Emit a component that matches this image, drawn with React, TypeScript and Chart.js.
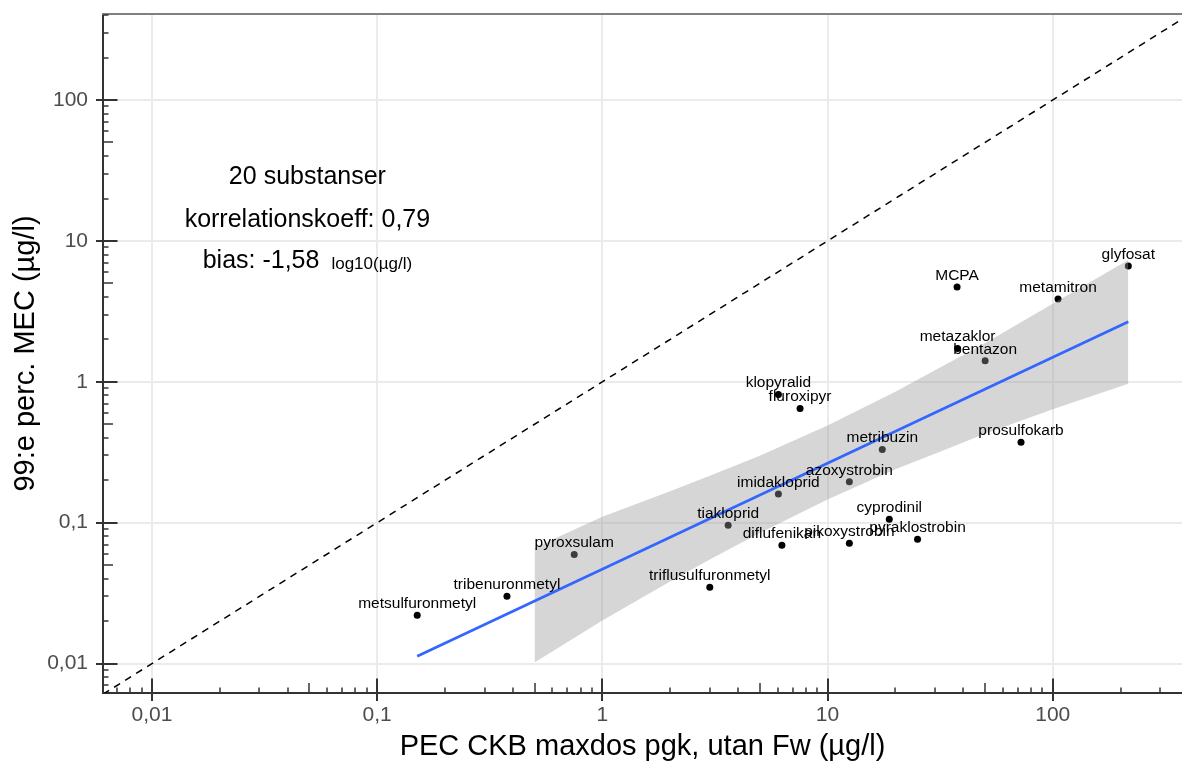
import React, { useEffect, useRef } from 'react';
import { Chart, registerables } from 'chart.js';

Chart.register(...registerables);

const FONT = '"Liberation Sans", Arial, Helvetica, sans-serif';

// Substances with PEC (x) and 99th percentile MEC (y), both in µg/l
const substances = [
  'glyfosat', 'MCPA', 'metamitron', 'metazaklor', 'bentazon',
  'klopyralid', 'fluroxipyr', 'metribuzin', 'prosulfokarb', 'azoxystrobin',
  'imidakloprid', 'cyprodinil', 'tiakloprid', 'pyraklostrobin', 'pikoxystrobin',
  'diflufenikan', 'pyroxsulam', 'triflusulfuronmetyl', 'tribenuronmetyl', 'metsulfuronmetyl',
];
const pec = [
  216.6, 37.6, 105.6, 37.8, 50.1,
  6.05, 7.55, 17.5, 72.3, 12.5,
  6.05, 18.8, 3.62, 25.1, 12.5,
  6.27, 0.75, 3.0, 0.377, 0.1506,
];
const mec = [
  6.63, 4.71, 3.87, 1.727, 1.41,
  0.814, 0.647, 0.331, 0.373, 0.195,
  0.16, 0.1059, 0.096, 0.0763, 0.0715,
  0.0692, 0.0595, 0.0348, 0.0301, 0.022,
];

// Regression line endpoints (log-log fit)
const fitX = [0.1506, 216.6];
const fitY = [0.01127, 2.667];

// Confidence band of the fit
const bandX = [0.5, 1, 2, 3, 5, 10, 20, 30, 50, 100, 216.6];
const bandUpper = [0.0665, 0.11, 0.167, 0.2155, 0.2987, 0.49, 0.849, 1.21, 1.878, 3.575, 7.33];
const bandLower = [0.01016, 0.0202, 0.0382, 0.0547, 0.0844, 0.1463, 0.2395, 0.3086, 0.428, 0.639, 0.968];

// 1:1 reference line
const identity = [0.001, 1000];

// Axis ticks
const xTickValues = [0.01, 0.1, 1, 10, 100];
const xTickLabels = ['0,01', '0,1', '1', '10', '100'];
const yTickValues = [0.01, 0.1, 1, 10, 100];
const yTickLabels = ['0,01', '0,1', '1', '10', '100'];

// Summary text
const statsLines = ['20 substanser', 'korrelationskoeff: 0,79'];
const biasText = 'bias: -1,58';
const biasUnit = 'log10(µg/l)';

const AXIS_MIN_X = 0.006061;
const AXIS_MAX_X = 375;
const AXIS_MIN_Y = 0.006183;
const AXIS_MAX_Y = 408;

const decorations = {
  id: 'decorations',
  afterDatasetsDraw(chart: any) {
    const { ctx, scales } = chart;
    const x = scales.x;
    const y = scales.y;
    ctx.save();
    // point labels, above each point
    ctx.font = `15.5px ${FONT}`;
    ctx.fillStyle = '#000';
    ctx.textAlign = 'center';
    ctx.textBaseline = 'alphabetic';
    substances.forEach((name, i) => {
      const px = x.getPixelForValue(pec[i]);
      const py = y.getPixelForValue(mec[i]);
      ctx.fillText(name, px, py - 7);
    });

    // summary block
    const cx = x.getPixelForValue(0.049);
    ctx.font = `25px ${FONT}`;
    ctx.fillText(statsLines[0], cx, y.getPixelForValue(25.4));
    ctx.fillText(statsLines[1], cx, y.getPixelForValue(12.5));
    const by = y.getPixelForValue(6.47);
    const w1 = ctx.measureText(biasText).width;
    ctx.font = `17px ${FONT}`;
    const w2 = ctx.measureText(biasUnit).width;
    const gap = 12;
    const start = cx - (w1 + gap + w2) / 2;
    ctx.textAlign = 'left';
    ctx.font = `25px ${FONT}`;
    ctx.fillText(biasText, start, by);
    ctx.font = `17px ${FONT}`;
    ctx.fillText(biasUnit, start + w1 + gap, by + 1);
    ctx.restore();
  },
  afterDraw(chart: any) {
    const { ctx, chartArea: a, scales } = chart;
    const x = scales.x;
    const y = scales.y;
    ctx.save();
    // top frame line
    ctx.strokeStyle = '#808080';
    ctx.lineWidth = 2;
    ctx.beginPath();
    ctx.moveTo(a.left - 1, a.top);
    ctx.lineTo(a.right, a.top);
    ctx.stroke();

    // logarithmic tick marks along both axes
    ctx.strokeStyle = '#333333';
    for (let e = -3; e <= 3; e++) {
      for (let m = 1; m <= 9; m++) {
        const v = m * Math.pow(10, e);
        const len = m === 1 ? 14.5 : m === 5 ? 10 : 5.5;
        ctx.lineWidth = m === 1 ? 2 : 1.5;
        if (v >= x.min && v <= x.max) {
          const px = Math.round(x.getPixelForValue(v));
          const out = m === 1 ? 8 : 0;
          ctx.beginPath();
          ctx.moveTo(px, a.bottom + out);
          ctx.lineTo(px, a.bottom - len);
          ctx.stroke();
        }
        if (v >= y.min && v <= y.max) {
          const py = Math.round(y.getPixelForValue(v));
          const out = m === 1 ? 7 : 0;
          ctx.beginPath();
          ctx.moveTo(a.left - out, py);
          ctx.lineTo(a.left + len, py);
          ctx.stroke();
        }
      }
    }
    ctx.restore();
  },
};

export default function App() {
  const ref = useRef<HTMLCanvasElement>(null);

  useEffect(() => {
    if (!ref.current) return;
    const chart = new Chart(ref.current, {
      type: 'line',
      data: {
        datasets: [
          {
            label: 'fit',
            data: fitX.map((v, i) => ({ x: v, y: fitY[i] })),
            borderColor: '#3366FF',
            borderWidth: 2.6,
            pointRadius: 0,
            fill: false,
          },
          {
            label: 'band upper',
            data: bandX.map((v, i) => ({ x: v, y: bandUpper[i] })),
            borderColor: 'rgba(0,0,0,0)',
            borderWidth: 0,
            pointRadius: 0,
            backgroundColor: 'rgba(153,153,153,0.4)',
            fill: '+1',
          },
          {
            label: 'band lower',
            data: bandX.map((v, i) => ({ x: v, y: bandLower[i] })),
            borderColor: 'rgba(0,0,0,0)',
            borderWidth: 0,
            pointRadius: 0,
            fill: false,
          },
          {
            label: 'substances',
            data: pec.map((v, i) => ({ x: v, y: mec[i] })),
            showLine: false,
            pointRadius: 3.5,
            pointBackgroundColor: '#000',
            pointBorderColor: '#000',
            pointBorderWidth: 0,
            fill: false,
          },
          {
            label: '1:1',
            data: identity.map((v) => ({ x: v, y: v })),
            borderColor: '#000',
            borderWidth: 1.5,
            borderDash: [7, 6],
            pointRadius: 0,
            fill: false,
          },
        ],
      },
      options: {
        responsive: false,
        animation: false,
        events: [],
        layout: { autoPadding: false, padding: { top: 14, right: 0, left: 0, bottom: 0 } },
        plugins: {
          legend: { display: false },
          tooltip: { enabled: false },
          filler: { drawTime: 'beforeDatasetDraw', propagate: true },
        },
        scales: {
          x: {
            type: 'logarithmic',
            min: AXIS_MIN_X,
            max: AXIS_MAX_X,
            afterBuildTicks: (s: any) => {
              s.ticks = xTickValues.map((v) => ({ value: v }));
            },
            afterFit: (s: any) => {
              s.height = 69;
              s.paddingLeft = 0;
              s.paddingRight = 0;
            },
            ticks: {
              autoSkip: false,
              maxRotation: 0,
              minRotation: 0,
              padding: 10,
              color: '#4d4d4d',
              font: { size: 21, family: FONT },
              callback: (_v: any, i: number) => xTickLabels[i],
            },
            grid: { color: '#ebebeb', lineWidth: 2, drawTicks: false },
            border: { display: true, color: '#333333', width: 2 },
            title: {
              display: true,
              text: 'PEC CKB maxdos pgk, utan Fw (µg/l)',
              color: '#000',
              font: { size: 29, family: FONT, lineHeight: 1 },
              padding: { top: 0, bottom: 1 },
            },
          },
          y: {
            type: 'logarithmic',
            min: AXIS_MIN_Y,
            max: AXIS_MAX_Y,
            afterBuildTicks: (s: any) => {
              s.ticks = yTickValues.map((v) => ({ value: v }));
            },
            afterFit: (s: any) => {
              s.width = 103;
              s.paddingTop = 0;
              s.paddingBottom = 0;
            },
            ticks: {
              autoSkip: false,
              padding: 15,
              color: '#4d4d4d',
              font: { size: 21, family: FONT },
              callback: (_v: any, i: number) => yTickLabels[i],
            },
            grid: { color: '#ebebeb', lineWidth: 2, drawTicks: false },
            border: { display: true, color: '#333333', width: 2 },
            title: {
              display: true,
              text: '99:e perc. MEC (µg/l)',
              color: '#000',
              font: { size: 29, family: FONT, lineHeight: 1 },
              padding: { top: 11, bottom: 0 },
            },
          },
        },
      },
      plugins: [decorations],
    } as any);
    return () => chart.destroy();
  }, []);

  return (
    <div style={{ position: 'fixed', left: 0, top: 0, width: 1182, height: 762, background: '#fff' }}>
      <canvas ref={ref} width={1182} height={762} style={{ display: 'block', width: 1182, height: 762 }} />
    </div>
  );
}
